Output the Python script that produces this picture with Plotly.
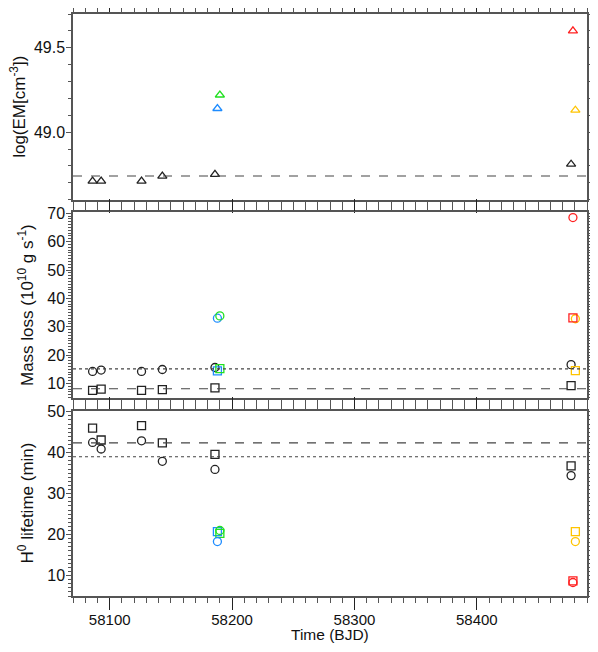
from plotly import graph_objects as go
from plotly.subplots import make_subplots

# observation times (BJD - 2400000)
t_black = [58086, 58093, 58126, 58143, 58186, 58477]
t_blue = 58188
t_green = 58190
t_red = 58478.5
t_yellow = 58480.5

# panel 1: emission measure
em_black = [48.71, 48.71, 48.71, 48.74, 48.75, 48.81]
em_blue, em_green, em_red, em_yellow = 49.14, 49.22, 49.60, 49.13
em_ref = 48.74

# panel 2: mass loss (circles / squares)
ml_circ_black = [14.2, 14.7, 14.2, 14.9, 15.6, 16.6]
ml_circ_blue, ml_circ_green, ml_circ_red, ml_circ_yellow = 33.0, 33.8, 68.5, 32.8
ml_sq_black = [7.5, 8.0, 7.5, 7.8, 8.4, 9.2]
ml_sq_blue, ml_sq_green, ml_sq_red, ml_sq_yellow = 14.4, 15.2, 33.1, 14.5
ml_dotted = 15.1
ml_dashed = 8.1

# panel 3: H0 lifetime (squares / circles)
lt_sq_black = [46.0, 43.1, 46.6, 42.4, 39.6, 36.8]
lt_sq_blue, lt_sq_green, lt_sq_red, lt_sq_yellow = 20.7, 20.3, 8.7, 20.7
lt_circ_black = [42.5, 40.9, 42.9, 37.9, 35.9, 34.4]
lt_circ_blue, lt_circ_green, lt_circ_red, lt_circ_yellow = 18.3, 21.0, 8.3, 18.3
lt_dashed = 42.4
lt_dotted = 39.0

BLUE = "#1e8cff"
GREEN = "#22e022"
RED = "#ff2020"
YELLOW = "#ffc400"
BLACK = "#222222"
AX = "#555555"
FONT = "Liberation Sans, Arial, sans-serif"

fig = make_subplots(rows=3, cols=1, shared_xaxes=True)


def pts(row, sym, size, blk, blue, green, red, yellow):
    groups = [(t_black, blk, BLACK), ([t_blue], [blue], BLUE),
              ([t_green], [green], GREEN), ([t_red], [red], RED),
              ([t_yellow], [yellow], YELLOW)]
    for x, y, c in groups:
        fig.add_trace(go.Scatter(x=x, y=y, mode="markers", showlegend=False,
                                 marker=dict(symbol=sym, size=size, color=c,
                                             line=dict(width=1.3, color=c))),
                      row=row, col=1)


pts(1, "triangle-up-open", 8, em_black, em_blue, em_green, em_red, em_yellow)
pts(2, "circle-open", 8, ml_circ_black, ml_circ_blue, ml_circ_green, ml_circ_red, ml_circ_yellow)
pts(2, "square-open", 8, ml_sq_black, ml_sq_blue, ml_sq_green, ml_sq_red, ml_sq_yellow)
pts(3, "square-open", 8, lt_sq_black, lt_sq_blue, lt_sq_green, lt_sq_red, lt_sq_yellow)
pts(3, "circle-open", 8, lt_circ_black, lt_circ_blue, lt_circ_green, lt_circ_red, lt_circ_yellow)


def hline(y, yref, dash):
    fig.add_shape(type="line", xref="paper", x0=0, x1=1, yref=yref, y0=y, y1=y,
                  line=dict(color="#444444", width=1.1, dash=dash))


hline(em_ref, "y", "dash")
hline(ml_dotted, "y2", "dot")
hline(ml_dashed, "y2", "dash")
hline(lt_dashed, "y3", "dash")
hline(lt_dotted, "y3", "dot")

domains = [[0.681, 1.0], [0.341, 0.659], [0.0, 0.318]]
yranges = [[48.6, 49.7], [5.0, 70.3], [5.0, 50.2]]
ytitles = ["log(EM[cm<sup>-3</sup>])", "Mass loss (10<sup>10</sup> g s<sup>-1</sup>)",
           "H<sup>0</sup> lifetime (min)"]
ytitle_shift = [-55, -47, -47]
ydticks = [0.5, 10, 10]
yminor = [0.1, 1, 1]

for i in range(3):
    n = "" if i == 0 else str(i + 1)
    fig.layout["yaxis" + n].update(
        domain=domains[i], range=yranges[i], dtick=ydticks[i], tick0=0,
        tickformat=".1f" if i == 0 else "d", automargin=False,
        ticks="outside", ticklen=5, tickwidth=1, tickcolor=AX,
        minor=dict(dtick=yminor[i], ticks="outside", ticklen=3, tickcolor=AX),
        showline=True, linecolor=AX, linewidth=1.5, mirror="allticks",
        showgrid=False, zeroline=False, ticklabelstandoff=-2,
        tickfont=dict(size=16, color="#111111", family=FONT))
    fig.layout["xaxis" + n].update(
        range=[58070, 58490], dtick=100, tick0=0, tickformat="d", automargin=False,
        ticks="outside", ticklen=12, tickwidth=1, tickcolor="#222222",
        minor=dict(dtick=10, ticks="outside", ticklen=5, tickcolor=AX),
        showline=True, linecolor=AX, linewidth=1.5, mirror="allticks",
        showgrid=False, zeroline=False, showticklabels=(i == 2),
        tickfont=dict(size=15, color="#111111", family=FONT))
    fig.add_annotation(text=ytitles[i], xref="paper", yref="paper", x=0,
                       y=sum(domains[i]) / 2, xanchor="center", yanchor="middle",
                       xshift=ytitle_shift[i], textangle=-90, showarrow=False,
                       font=dict(size=17, color="#111111", family=FONT))

fig.layout.xaxis3.ticklabelstandoff = -3
fig.add_annotation(text="Time (BJD)", xref="paper", yref="paper", x=0.5, y=0,
                   xanchor="center", yanchor="top", yshift=-29, showarrow=False,
                   borderpad=0, font=dict(size=15.5, color="#111111", family=FONT))

# page body adds an 8px margin, so the figure is sized to fit inside it
fig.update_layout(width=582, height=636, margin=dict(l=65, r=3, t=6, b=48),
                  plot_bgcolor="white", paper_bgcolor="white",
                  font=dict(family=FONT))

fig.write_html("out.html")
